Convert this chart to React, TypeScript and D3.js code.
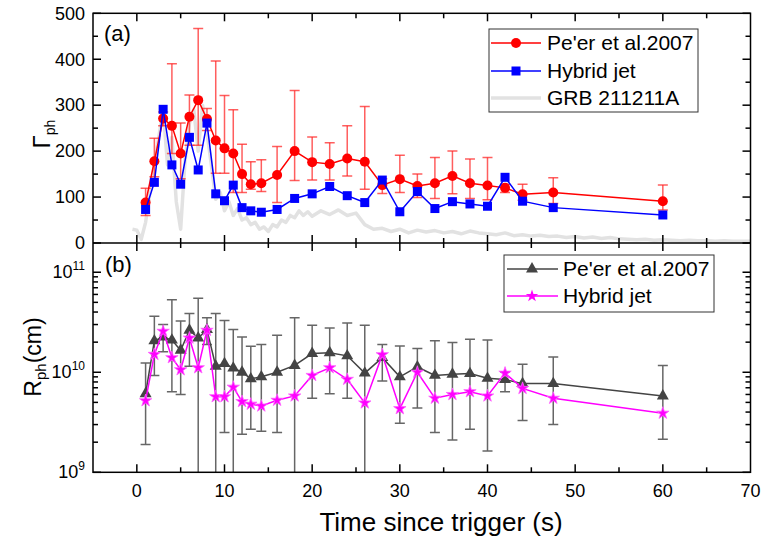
import { useEffect, useRef } from 'react';
import * as d3 from 'd3';

// time bins (s)
const times = [1, 2, 3, 4, 5, 6, 7, 8, 9, 10, 11, 12, 13, 14.2, 16, 18, 20, 22, 24, 26, 28, 30, 32, 34, 36, 38, 40, 42, 44, 47.5, 60];

// (a) Lorentz factor
const gammaPeer = [88, 178, 271, 255, 195, 275, 311, 270, 223, 206, 195, 150, 128, 130, 148, 200, 176, 172, 184, 177, 126, 139, 124, 130, 146, 130, 125, 120, 106, 110, 91];
const gammaPeerHi = [119, 228, 285, 390, 261, 322, 467, 293, 396, 321, 290, 215, 177, 181, 210, 332, 231, 218, 255, 297, 140, 191, 150, 186, 200, 183, 186, 128, 128, 142, 126];
const gammaPeerLo = [60, 144, 255, 195, 140, 213, 213, 245, 152, 152, 110, 110, 117, 112, 88, 136, 137, 137, 146, 117, 108, 110, 99, 97, 107, 97, 94, 110, 93, 86, 72];
const gammaHybrid = [73, 132, 291, 170, 128, 230, 159, 261, 107, 92, 126, 77, 70, 67, 73, 97, 107, 123, 103, 88, 137, 68, 112, 75, 90, 85, 80, 143, 91, 77, 61];

// (b) photospheric radius, units of 1e10 cm
const radiusPeer = [0.61, 2.06, 2.25, 2.1, 1.66, 2.63, 2.2, 2.67, 1.15, 1.22, 1.1, 1.0, 0.86, 0.9, 1.0, 1.17, 1.54, 1.57, 1.46, 0.98, 1.4, 0.9, 1.13, 0.93, 0.955, 0.97, 0.87, 0.845, 0.77, 0.77, 0.58];
const radiusPeerHi = [1.24, 3.63, 3.0, 5.3, 3.26, 3.86, 5.5, 3.5, 3.86, 3.3, 2.67, 2.25, 1.82, 1.9, 2.34, 3.5, 2.95, 2.77, 3.1, 2.95, 1.9, 1.83, 1.73, 2.06, 1.98, 2.14, 2.1, 1.0, 1.2, 1.42, 1.17];
const radiusPeerLo = [0.19, 0.93, 1.6, 0.64, 0.6, 1.15, 0.01, 1.9, 0.01, 0.25, 0.01, 0.24, 0.27, 0.257, 0.25, 0.01, 0.55, 0.61, 0.55, 0.01, 0.82, 0.31, 0.44, 0.25, 0.21, 0.27, 0.163, 0.64, 0.33, 0.3, 0.214];
const radiusHybrid = [0.52, 1.51, 2.57, 1.4, 1.06, 2.2, 1.11, 2.63, 0.57, 0.57, 0.71, 0.51, 0.48, 0.46, 0.525, 0.58, 0.93, 1.11, 0.85, 0.494, 1.5, 0.433, 1.0, 0.55, 0.6, 0.64, 0.58, 0.98, 0.69, 0.55, 0.39];

// GRB 211211A light curve (scaled to panel a)
const lcTime = [-0.5, 0, 0.5, 1, 1.5, 2, 2.5, 3, 3.5, 4, 4.5, 5, 5.5, 6, 6.5, 7, 7.5, 8, 8.5, 9, 9.5, 10, 10.5, 11, 11.5, 12, 12.5, 13, 13.5, 14, 14.5, 15, 15.5, 16, 16.5, 17, 17.5, 18, 18.5, 19, 19.5, 20,
  21, 22, 23, 24, 25, 26, 27, 28, 29, 30, 31, 32, 33, 34, 35, 36, 37, 38, 39, 40, 41, 42, 43, 44, 45, 46, 47, 48, 49, 50, 51, 52, 53, 54, 55, 56, 57, 58, 59, 60, 61, 62, 63, 64, 65, 66, 67, 68, 69, 70];
const lcFlux = [30, 28, 8, 45, 110, 170, 230, 290, 170, 230, 90, 30, 180, 260, 290, 200, 300, 240, 170, 95, 110, 70, 90, 60, 75, 50, 55, 40, 45, 30, 35, 25, 40, 35, 50, 45, 60, 55, 70, 60, 68, 58,
  70, 62, 72, 60, 65, 40, 30, 32, 25, 30, 22, 28, 24, 27, 22, 25, 20, 26, 22, 20, 18, 22, 16, 18, 15, 17, 14, 15, 12, 14, 11, 13, 10, 12, 9, 8, 7, 8, 6, 7, 6, 5, 6, 5, 5, 4, 5, 4, 4, 4];

const xTicks = [0, 10, 20, 30, 40, 50, 60, 70];
const gammaTicks = [0, 100, 200, 300, 400, 500];
const radiusTicks = [1e9, 1e10, 1e11];
const radiusExp = ['9', '10', '11'];

const FONT = 'Arial, "Liberation Sans", sans-serif';

const App = () => {
  const svgRef = useRef(null);

  useEffect(() => {
    const svg = d3.select(svgRef.current);
    svg.selectAll('*').remove();

    const left = 93, right = 750.5;
    const aTop = 13.3, mid = 243, bBottom = 472.3;

    const x = d3.scaleLinear().domain([-5, 70]).range([left, right]);
    const yA = d3.scaleLinear().domain([0, 500]).range([mid, aTop]);
    const yB = d3.scaleLog().domain([1e9, 1.96e11]).range([bBottom, mid]);

    svg.append('rect').attr('width', 763).attr('height', 544).attr('fill', '#fff');

    const defs = svg.append('defs');
    defs.append('clipPath').attr('id', 'clipA').append('rect')
      .attr('x', left).attr('y', aTop).attr('width', right - left).attr('height', mid - aTop);
    defs.append('clipPath').attr('id', 'clipB').append('rect')
      .attr('x', left).attr('y', mid).attr('width', right - left).attr('height', bBottom - mid);

    const idx = d3.range(times.length);

    // ---------- panel (a)
    const gA = svg.append('g').attr('clip-path', 'url(#clipA)');

    gA.append('path')
      .datum(d3.range(lcTime.length))
      .attr('fill', 'none')
      .attr('stroke', '#e2e2e2')
      .attr('stroke-width', 3.5)
      .attr('stroke-linejoin', 'round')
      .attr('d', d3.line<number>().x(i => x(lcTime[i])).y(i => yA(lcFlux[i])));

    const errA = gA.append('g').attr('stroke', 'rgba(255,40,40,0.75)').attr('stroke-width', 1.5);
    idx.forEach(i => {
      const cx = x(times[i]);
      errA.append('line').attr('x1', cx).attr('x2', cx).attr('y1', yA(gammaPeerLo[i])).attr('y2', yA(gammaPeerHi[i]));
      [gammaPeerLo[i], gammaPeerHi[i]].forEach(v => {
        errA.append('line').attr('x1', cx - 5).attr('x2', cx + 5).attr('y1', yA(v)).attr('y2', yA(v));
      });
    });

    const lineA = (vals: number[]) => d3.line<number>().x(i => x(times[i])).y(i => yA(vals[i]))(idx);

    gA.append('path').attr('d', lineA(gammaPeer)).attr('fill', 'none').attr('stroke', '#ff0000').attr('stroke-width', 1.5);
    gA.selectAll('.rc').data(idx).enter().append('circle')
      .attr('cx', i => x(times[i])).attr('cy', i => yA(gammaPeer[i])).attr('r', 5).attr('fill', '#ff0000');

    gA.append('path').attr('d', lineA(gammaHybrid)).attr('fill', 'none').attr('stroke', '#0000ff').attr('stroke-width', 1.5);
    gA.selectAll('.bs').data(idx).enter().append('rect')
      .attr('x', i => x(times[i]) - 4.5).attr('y', i => yA(gammaHybrid[i]) - 4.5)
      .attr('width', 9).attr('height', 9).attr('fill', '#0000ff');

    // ---------- panel (b)
    const gB = svg.append('g').attr('clip-path', 'url(#clipB)');
    const errB = gB.append('g').attr('stroke', '#666').attr('stroke-width', 1.5);
    idx.forEach(i => {
      const cx = x(times[i]);
      const lo = radiusPeerLo[i] * 1e10, hi = radiusPeerHi[i] * 1e10;
      errB.append('line').attr('x1', cx).attr('x2', cx).attr('y1', yB(lo)).attr('y2', yB(hi));
      [lo, hi].forEach(v => {
        errB.append('line').attr('x1', cx - 5).attr('x2', cx + 5).attr('y1', yB(v)).attr('y2', yB(v));
      });
    });

    const lineB = (vals: number[]) => d3.line<number>().x(i => x(times[i])).y(i => yB(vals[i] * 1e10))(idx);
    const tri = d3.symbol().type(d3.symbolTriangle).size(62);
    const star = d3.symbol().type(d3.symbolStar).size(48);

    gB.append('path').attr('d', lineB(radiusPeer)).attr('fill', 'none').attr('stroke', '#444').attr('stroke-width', 1.5);
    gB.selectAll('.tr').data(idx).enter().append('path')
      .attr('d', tri())
      .attr('transform', i => `translate(${x(times[i])},${yB(radiusPeer[i] * 1e10)})`)
      .attr('fill', '#444');

    gB.append('path').attr('d', lineB(radiusHybrid)).attr('fill', 'none').attr('stroke', '#ff00ff').attr('stroke-width', 1.5);
    gB.selectAll('.st').data(idx).enter().append('path')
      .attr('d', star())
      .attr('transform', i => `translate(${x(times[i])},${yB(radiusHybrid[i] * 1e10)})`)
      .attr('fill', '#ff00ff').attr('stroke', '#ff66ff').attr('stroke-width', 0.8);

    // ---------- axes (ticks inward on every side)
    const ax = svg.append('g').attr('stroke', '#000').attr('stroke-width', 1.5).attr('fill', 'none');
    ax.append('rect').attr('x', left).attr('y', aTop).attr('width', right - left).attr('height', bBottom - aTop);
    ax.append('line').attr('x1', left).attr('x2', right).attr('y1', mid).attr('y2', mid);

    const tick = (x1: number, y1: number, x2: number, y2: number) =>
      ax.append('line').attr('x1', x1).attr('y1', y1).attr('x2', x2).attr('y2', y2);

    d3.range(-5, 71, 5).forEach(t => {
      const len = t % 10 === 0 ? 8 : 5;
      const px = x(t);
      if (px <= left + 0.5 || px >= right - 0.5) return;
      tick(px, aTop, px, aTop + len);
      tick(px, mid, px, mid - len);
      tick(px, mid, px, mid + len);
      tick(px, bBottom, px, bBottom - len);
    });

    d3.range(0, 501, 50).forEach(v => {
      const len = v % 100 === 0 ? 8 : 5;
      const py = yA(v);
      tick(left, py, left + len, py);
      tick(right, py, right - len, py);
    });

    [1e9, 1e10].forEach(dec => {
      d3.range(1, 10).forEach(m => {
        const len = m === 1 ? 8 : 5;
        const py = yB(dec * m);
        tick(left, py, left + len, py);
        tick(right, py, right - len, py);
      });
    });
    tick(left, yB(1e11), left + 8, yB(1e11));
    tick(right, yB(1e11), right - 8, yB(1e11));

    const txt = svg.append('g').attr('font-family', FONT).attr('fill', '#000');

    gammaTicks.forEach(v => {
      txt.append('text').attr('x', 85).attr('y', yA(v)).attr('dy', '0.35em')
        .attr('text-anchor', 'end').attr('font-size', 18).text(String(v));
    });

    radiusTicks.forEach((v, i) => {
      const t = txt.append('text').attr('x', 85).attr('y', yB(v) + 6)
        .attr('text-anchor', 'end').attr('font-size', 18);
      t.append('tspan').text('10');
      t.append('tspan').attr('dy', -8).attr('font-size', 12).text(radiusExp[i]);
    });

    xTicks.forEach(v => {
      txt.append('text').attr('x', x(v)).attr('y', 497)
        .attr('text-anchor', 'middle').attr('font-size', 18).text(String(v));
    });

    txt.append('text').attr('x', 441).attr('y', 531).attr('text-anchor', 'middle')
      .attr('font-size', 26).text('Time since trigger (s)');

    const gl = txt.append('text').attr('transform', 'translate(50,134) rotate(-90)')
      .attr('text-anchor', 'middle').attr('font-size', 24);
    gl.append('tspan').text('Γ');
    gl.append('tspan').attr('dy', 5).attr('font-size', 14).text('ph');

    const rl = txt.append('text').attr('transform', 'translate(41,357) rotate(-90)')
      .attr('text-anchor', 'middle').attr('font-size', 23);
    rl.append('tspan').text('R');
    rl.append('tspan').attr('dy', 5).attr('font-size', 15).text('ph');
    rl.append('tspan').attr('dy', -5).text('(cm)');

    txt.append('text').attr('x', 104).attr('y', 41).attr('font-size', 22).text('(a)');
    txt.append('text').attr('x', 105).attr('y', 272).attr('font-size', 22).text('(b)');

    // ---------- legends
    const legA = svg.append('g');
    legA.append('rect').attr('x', 489).attr('y', 29).attr('width', 209).attr('height', 83)
      .attr('fill', '#fff').attr('stroke', '#333').attr('stroke-width', 1);
    const itemsA = [
      { label: "Pe'er et al.2007", color: '#ff0000', mark: 'circle', y: 43 },
      { label: 'Hybrid jet', color: '#0000ff', mark: 'square', y: 71 },
      { label: 'GRB 211211A', color: '#e2e2e2', mark: 'none', y: 98 },
    ];
    itemsA.forEach(it => {
      legA.append('line').attr('x1', 491).attr('x2', 541).attr('y1', it.y).attr('y2', it.y)
        .attr('stroke', it.color).attr('stroke-width', it.mark === 'none' ? 3.5 : 1.5);
      if (it.mark === 'circle') legA.append('circle').attr('cx', 516).attr('cy', it.y).attr('r', 5).attr('fill', it.color);
      if (it.mark === 'square') legA.append('rect').attr('x', 511.5).attr('y', it.y - 4.5).attr('width', 9).attr('height', 9).attr('fill', it.color);
      legA.append('text').attr('x', 547).attr('y', it.y).attr('dy', '0.35em')
        .attr('font-family', FONT).attr('font-size', 21).text(it.label);
    });

    const legB = svg.append('g');
    legB.append('rect').attr('x', 504).attr('y', 255).attr('width', 210).attr('height', 57)
      .attr('fill', '#fff').attr('stroke', '#333').attr('stroke-width', 1);
    const itemsB = [
      { label: "Pe'er et al.2007", color: '#444', sym: tri, y: 269 },
      { label: 'Hybrid jet', color: '#ff00ff', sym: star, y: 296 },
    ];
    itemsB.forEach(it => {
      legB.append('line').attr('x1', 507).attr('x2', 558).attr('y1', it.y).attr('y2', it.y)
        .attr('stroke', it.color).attr('stroke-width', 1.5);
      legB.append('path').attr('d', it.sym()).attr('transform', `translate(532,${it.y})`).attr('fill', it.color);
      legB.append('text').attr('x', 563).attr('y', it.y).attr('dy', '0.35em')
        .attr('font-family', FONT).attr('font-size', 21).text(it.label);
    });
  }, []);

  return (
    <svg ref={svgRef} width={763} height={544}
      style={{ position: 'absolute', left: 0, top: 0, display: 'block' }} />
  );
};

export default App;
